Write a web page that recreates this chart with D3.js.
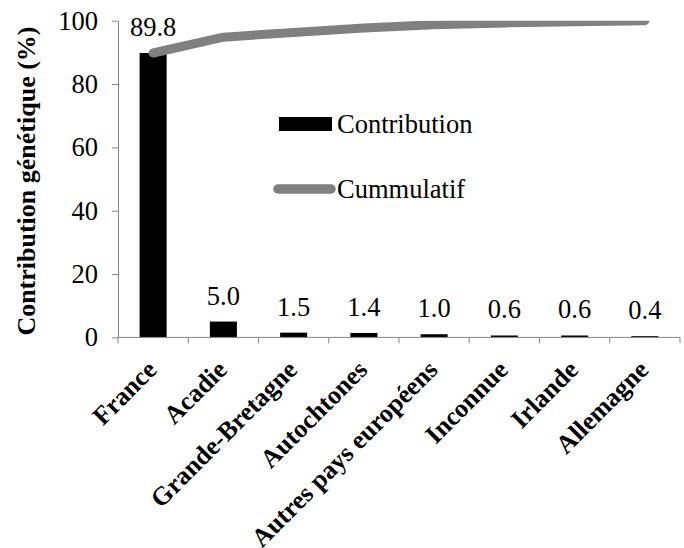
<!DOCTYPE html>
<html>
<head>
  <meta charset="utf-8">
  <script src="https://cdnjs.cloudflare.com/ajax/libs/d3/7.8.5/d3.min.js"></script>
  <style>
    body, html { margin: 0; padding: 0; background: #fff; }
  </style>
</head>
<body>
<div id="chart"></div>
<script>
// chart values
const categories = ["France", "Acadie", "Grande-Bretagne", "Autochtones",
  "Autres pays européens", "Inconnue", "Irlande", "Allemagne"];
const contribution = [89.8, 5.0, 1.5, 1.4, 1.0, 0.6, 0.6, 0.4];
const cumulative = [89.8, 94.8, 96.3, 97.7, 98.7, 99.3, 99.7, 100];
const yTicks = [0, 20, 40, 60, 80, 100];

const FONT = '"Liberation Serif"';
const W = 684, H = 548;
const mLeft = 118, mRight = 680, mTop = 20.7, mBottom = 337.4;

const svg = d3.select("#chart").append("svg")
  .attr("width", W).attr("height", H);

const x = d3.scaleBand().domain(categories).range([mLeft, mRight]);
const y = d3.scaleLinear().domain([0, 100]).range([mBottom, mTop]);

// clip for the plot area (line is cut at 100)
svg.append("clipPath").attr("id", "plot")
  .append("rect").attr("x", mLeft).attr("y", mTop)
  .attr("width", mRight - mLeft).attr("height", mBottom - mTop);

// bars
const barW = x.bandwidth() * 0.385;
svg.append("g").selectAll("rect")
  .data(contribution)
  .join("rect")
    .attr("x", (d, i) => x(categories[i]) + x.bandwidth() / 2 - barW / 2)
    .attr("y", d => y(d))
    .attr("width", barW)
    .attr("height", d => mBottom - y(d))
    .attr("fill", "#000");

// bar labels
svg.append("g").selectAll("text")
  .data(contribution)
  .join("text")
    .attr("x", (d, i) => x(categories[i]) + x.bandwidth() / 2)
    .attr("y", d => y(d) - 17)
    .attr("text-anchor", "middle")
    .style("font-family", FONT)
    .style("font-size", "26.5px")
    .text(d => d.toFixed(1));

// cumulative line
const line = d3.line()
  .x((d, i) => x(categories[i]) + x.bandwidth() / 2)
  .y(d => y(d));
svg.append("path")
  .datum(cumulative)
  .attr("clip-path", "url(#plot)")
  .attr("d", line)
  .attr("fill", "none")
  .attr("stroke", "#808080")
  .attr("stroke-width", 9)
  .attr("stroke-linecap", "round")
  .attr("stroke-linejoin", "round");

// y axis
const yAxis = svg.append("g")
  .attr("transform", `translate(${mLeft},0)`)
  .call(d3.axisLeft(y).tickValues(yTicks).tickSize(6).tickPadding(14).tickSizeOuter(0));
yAxis.select(".domain").attr("stroke", "#868686");
yAxis.selectAll(".tick line").attr("stroke", "#868686");
yAxis.selectAll(".tick text")
  .style("font-family", FONT)
  .style("font-size", "26.5px")
  .attr("fill", "#000");

// x axis
const xAxis = svg.append("g")
  .attr("transform", `translate(0,${mBottom})`);
xAxis.append("line")
  .attr("x1", mLeft).attr("x2", mRight)
  .attr("stroke", "#868686");
xAxis.selectAll("line.tk")
  .data(categories.concat([null]))
  .join("line").attr("class", "tk")
    .attr("x1", (d, i) => mLeft + i * x.step())
    .attr("x2", (d, i) => mLeft + i * x.step())
    .attr("y1", 0).attr("y2", 6)
    .attr("stroke", "#868686");
xAxis.selectAll("text")
  .data(categories)
  .join("text")
    .attr("transform", d => `translate(${x(d) + x.bandwidth() / 2 + 5},${34}) rotate(-45)`)
    .attr("text-anchor", "end")
    .style("font-family", FONT)
    .style("font-size", "26px")
    .style("font-weight", "bold")
    .text(d => d);

// y title
svg.append("text")
  .attr("transform", `translate(35,${(mTop + mBottom) / 2 + 2}) rotate(-90)`)
  .attr("text-anchor", "middle")
  .style("font-family", FONT)
  .style("font-size", "26px")
  .style("font-weight", "bold")
  .text("Contribution génétique (%)");

// legend
const lg = svg.append("g");
lg.append("rect").attr("x", 279).attr("y", 117).attr("width", 53).attr("height", 14).attr("fill", "#000");
lg.append("text").attr("x", 337).attr("y", 133)
  .style("font-family", FONT).style("font-size", "26.5px").text("Contribution");
lg.append("line").attr("x1", 278).attr("x2", 331).attr("y1", 189).attr("y2", 189)
  .attr("stroke", "#808080").attr("stroke-width", 9.5).attr("stroke-linecap", "round");
lg.append("text").attr("x", 337).attr("y", 198)
  .style("font-family", FONT).style("font-size", "26.5px").text("Cummulatif");
</script>
</body>
</html>
